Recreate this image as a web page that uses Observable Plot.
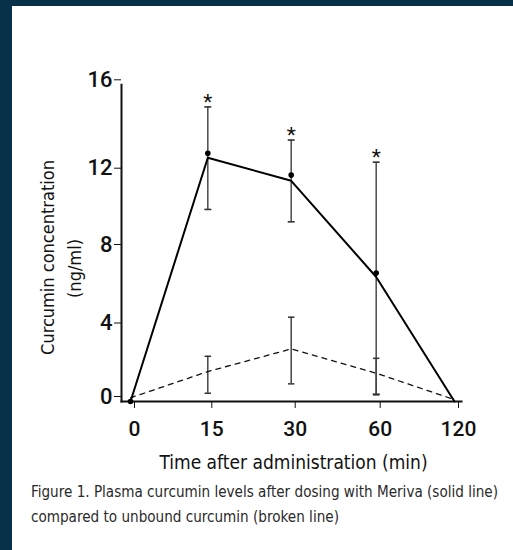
<!DOCTYPE html>
<html>
<head>
<meta charset="utf-8">
<script src="https://cdn.jsdelivr.net/npm/d3@7"></script>
<script src="https://cdn.jsdelivr.net/npm/@observablehq/plot@0.6"></script>
<style>
  html, body { margin: 0; padding: 0; background: #073049; }
  #card { position: absolute; left: 12px; top: 6px; width: 501px; height: 544px; background: #fff; }
  #card svg { display: block; }
  #card svg g[aria-label="y-axis tick label"], #card svg g[aria-label="x-axis tick label"], #card svg g.stars { font-stretch: normal; }
  #caption { margin: 0; padding-left: 19px; font-family: "DejaVu Sans", sans-serif; font-stretch: condensed; font-size: 15.1px; line-height: 25px; color: #2a2a2a; }
</style>
</head>
<body>
<div id="card"></div>
<script>
// ---- data ----
const times = [0, 15, 30, 60, 120];
const timeLabels = ["0", "15", "30", "60", "120"];
const yTicks = [0, 4, 8, 12, 16];
// Meriva (solid line)
const merivaLine = [0, 12.7, 11.6, 6.6, 0];
const merivaMean = [0, 12.9, 11.9, 6.8, null];
const merivaHigh = [null, 15.0, 13.5, 12.5, null];
const merivaLow  = [null, 10.1, 9.45, 0.4, null];
// Unbound curcumin (broken line)
const unboundLine = [0.2, 1.63, 2.86, 1.54, 0.1];
const unboundHigh = [null, 2.46, 4.55, 2.35, null];
const unboundLow  = [null, 0.45, 0.96, 0.36, null];
const significant = [false, true, true, true, false];

const yTitle1 = "Curcumin concentration";
const yTitle2 = "(ng/ml)";
const xTitle = "Time after administration (min)";
const caption = "Figure 1. Plasma curcumin levels after dosing with Meriva (solid line)<br>compared to unbound curcumin (broken line)";

// ---- tables ----
const rows = times.map((t, i) => ({
  t, label: timeLabels[i],
  mLine: merivaLine[i], mMean: merivaMean[i], mHi: merivaHigh[i], mLo: merivaLow[i],
  uLine: unboundLine[i], uHi: unboundHigh[i], uLo: unboundLow[i], sig: significant[i]
}));
const mBars = rows.filter(d => d.mHi != null);
const uBars = rows.filter(d => d.uHi != null);
const mDots = rows.filter(d => d.mMean != null);
const stars = rows.filter(d => d.sig);

const hcap = { draw(ctx, size) { const r = Math.sqrt(size / Math.PI); ctx.moveTo(-r, 0); ctx.lineTo(r, 0); } };

const W = 501, H = 474;
const tickFont = "Roboto, 'Liberation Sans', sans-serif";
const titleFont = "'DejaVu Sans', sans-serif";

const chart = Plot.plot({
  width: W, height: H,
  marginLeft: 109, marginRight: 52, marginTop: 78.3, marginBottom: 79,
  style: { background: "white", color: "#111", fontFamily: titleFont, fontStretch: "condensed" },
  x: { type: "linear", domain: times, range: [118, 195.3, 278.7, 363.7, 442] },
  y: { type: "linear", domain: yTicks, range: [395, 321.5, 243, 166.7, 78.3] },
  marks: [
    Plot.frame({ anchor: "left", stroke: "#111", strokeWidth: 2 }),
    Plot.frame({ anchor: "bottom", stroke: "#111", strokeWidth: 2 }),
    Plot.axisY({ ticks: yTicks, tickSize: 7, tickPadding: 2, dy: -5, label: null,
      fontFamily: tickFont, fontSize: 22, fontWeight: 500, tickFormat: d => String(d) }),
    Plot.axisX({ ticks: times, tickSize: 7, tickPadding: 13, dx: 4, label: null,
      tickFormat: (d) => timeLabels[times.indexOf(d)],
      fontFamily: tickFont, fontSize: 21, fontWeight: 500 }),
    // error bars
    Plot.ruleX(mBars, { x: "t", y1: "mLo", y2: "mHi", stroke: "#555", strokeWidth: 1.6 }),
    Plot.dot(mBars, { x: "t", y: "mHi", symbol: hcap, r: 3.5, fill: "none", stroke: "#333", strokeWidth: 1.6 }),
    Plot.dot(mBars, { x: "t", y: "mLo", symbol: hcap, r: 3.5, fill: "none", stroke: "#333", strokeWidth: 1.6 }),
    Plot.ruleX(uBars, { x: "t", y1: "uLo", y2: "uHi", stroke: "#444", strokeWidth: 1.5 }),
    Plot.dot(uBars, { x: "t", y: "uHi", symbol: hcap, r: 3.2, fill: "none", stroke: "#333", strokeWidth: 1.5 }),
    Plot.dot(uBars, { x: "t", y: "uLo", symbol: hcap, r: 3.2, fill: "none", stroke: "#333", strokeWidth: 1.5 }),
    // lines
    Plot.line(rows, { x: "t", y: "uLine", stroke: "#111", strokeWidth: 1.3, strokeDasharray: "5,5" }),
    Plot.line(rows, { x: "t", y: "mLine", stroke: "#000", strokeWidth: 2 }),
    Plot.dot(mDots, { x: "t", y: "mMean", r: 2.8, fill: "#000", stroke: "none" }),
    // significance
    Plot.text(stars, { x: "t", y: "mHi", text: () => "*", fontFamily: tickFont, fontSize: 21, dy: -5, fill: "#111", className: "stars" }),
    // titles
    Plot.text([yTitle1], { frameAnchor: "top-left", textAnchor: "middle", lineAnchor: "middle", text: d => d, rotate: -90, dx: -73, dy: 172.7, fontSize: 18, fill: "#111" }),
    Plot.text([yTitle2], { frameAnchor: "top-left", textAnchor: "middle", lineAnchor: "middle", text: d => d, rotate: -90, dx: -46, dy: 183.7, fontSize: 18, fill: "#111" }),
    Plot.text([xTitle], { frameAnchor: "bottom", textAnchor: "middle", lineAnchor: "middle", text: d => d, dx: 2, dy: 61, fontSize: 19, fill: "#111" })
  ]
});

const card = document.getElementById("card");
card.appendChild(chart);
const cap = document.createElement("p");
cap.id = "caption";
cap.innerHTML = caption;
card.appendChild(cap);
</script>
</body>
</html>
